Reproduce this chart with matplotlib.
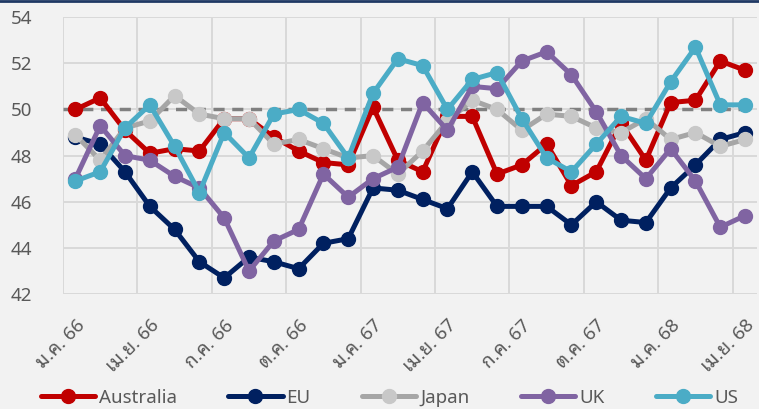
import matplotlib
matplotlib.use("Agg")
import matplotlib.pyplot as plt
from matplotlib.lines import Line2D

# monthly index values, Jan 2023 (ม.ค. 66) .. Apr 2025 (เม.ย. 68)
australia = [50.0, 50.5, 49.1, 48.1, 48.3, 48.2, 49.6, 49.6, 48.8, 48.2, 47.7, 47.6, 50.1, 47.8,
             47.3, 49.7, 49.7, 47.2, 47.6, 48.5, 46.7, 47.3, 49.4, 47.8, 50.3, 50.4, 52.1, 51.7]
eu = [48.8, 48.5, 47.3, 45.8, 44.8, 43.4, 42.7, 43.6, 43.4, 43.1, 44.2, 44.4, 46.6, 46.5,
      46.1, 45.7, 47.3, 45.8, 45.8, 45.8, 45.0, 46.0, 45.2, 45.1, 46.6, 47.6, 48.7, 49.0]
japan = [48.9, 47.8, 49.2, 49.5, 50.6, 49.8, 49.6, 49.6, 48.5, 48.7, 48.3, 47.9, 48.0, 47.2,
         48.2, 49.5, 50.4, 50.0, 49.1, 49.8, 49.7, 49.2, 49.0, 49.6, 48.7, 49.0, 48.4, 48.7]
uk = [47.0, 49.3, 48.0, 47.8, 47.1, 46.6, 45.3, 43.0, 44.3, 44.8, 47.2, 46.2, 47.0, 47.5,
      50.3, 49.1, 51.0, 50.9, 52.1, 52.5, 51.5, 49.9, 48.0, 47.0, 48.3, 46.9, 44.9, 45.4]
us = [46.9, 47.3, 49.2, 50.2, 48.4, 46.4, 49.0, 47.9, 49.8, 50.0, 49.4, 47.9, 50.7, 52.2,
      51.9, 50.0, 51.3, 51.6, 49.6, 47.9, 47.3, 48.5, 49.7, 49.4, 51.2, 52.7, 50.2, 50.2]

tick_labels = ['ม.ค. 66', 'เม.ย. 66', 'ก.ค. 66', 'ต.ค. 66', 'ม.ค. 67',
               'เม.ย. 67', 'ก.ค. 67', 'ต.ค. 67', 'ม.ค. 68', 'เม.ย. 68']
y_ticks = [42, 44, 46, 48, 50, 52, 54]

bg = '#F2F2F2'
txt = '#595959'
fonts = ['Noto Sans', 'Noto Sans Thai Looped', 'DejaVu Sans']
plt.rcParams['font.family'] = fonts

fig = plt.figure(figsize=(7.59, 4.09), dpi=100, facecolor=bg)
ax = fig.add_axes([0.083, 0.281, 0.915, 0.677], facecolor=bg)

x = list(range(len(australia)))
series = [
    ('Australia', australia, '#C00000', '#C00000'),
    ('EU', eu, '#002060', '#002060'),
    ('Japan', japan, '#A6A6A6', '#C8C8C8'),
    ('UK', uk, '#8064A2', '#8064A2'),
    ('US', us, '#4BACC6', '#4BACC6'),
]
for name, vals, lc, mc in series:
    ax.plot(x, vals, color=lc, lw=3.6, marker='o', ms=10,
            markerfacecolor=mc, markeredgecolor=mc, label=name, zorder=3,
            solid_capstyle='round')

# reference line at 50
ax.axhline(50, color='#808080', lw=2.5, ls=(0, (3.2, 2.2)), zorder=2)

ax.set_xlim(-0.5, len(x) - 0.5)
ax.set_ylim(42, 54)
ax.set_yticks(y_ticks)
ax.set_xticks(range(0, len(x), 3))
ax.set_xticklabels(tick_labels, rotation=45, ha='right', rotation_mode='anchor')
ax.set_xticks([k - 0.5 for k in range(0, len(x) + 1, 3)], minor=True)
ax.tick_params(axis='both', which='both', length=0, colors=txt, labelsize=13.5)
ax.tick_params(axis='y', pad=22)
ax.tick_params(axis='x', pad=16)
ax.grid(True, axis='y', color='#D9D9D9', lw=1.4, zorder=0)
ax.grid(True, axis='x', which='minor', color='#D9D9D9', lw=1.4, zorder=0)
ax.set_axisbelow(True)
for s in ax.spines.values():
    s.set_visible(False)

leg = fig.legend(loc='center', bbox_to_anchor=(0.513, 0.028), ncol=5, frameon=False,
                 fontsize=13.5, handlelength=2.9, columnspacing=2.75, handletextpad=0.2,
                 labelcolor=txt, borderpad=0, borderaxespad=0)

# dark rule along the top edge
fig.add_artist(Line2D([0, 1], [0.998, 0.998], color='#1F3864', lw=2, transform=fig.transFigure))

fig.savefig('out.png', dpi=100, facecolor=bg)
